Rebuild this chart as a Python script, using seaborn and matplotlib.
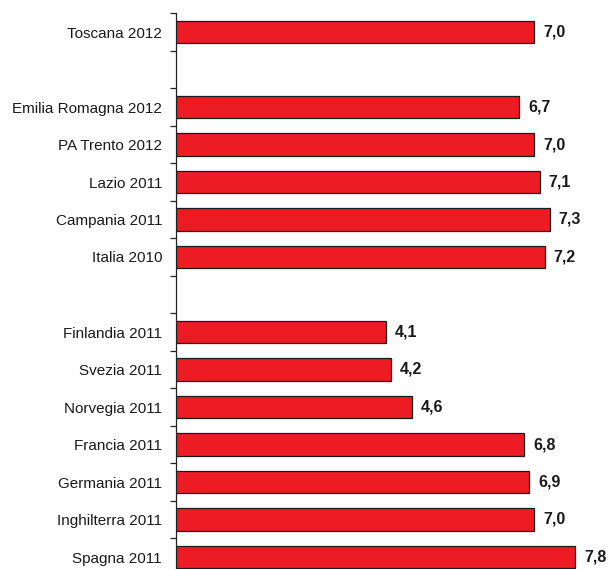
import matplotlib
matplotlib.use("Agg")
import matplotlib.pyplot as plt
import seaborn as sns
import pandas as pd
import numpy as np

labels = ["Toscana 2012", "", "Emilia Romagna 2012", "PA Trento 2012", "Lazio 2011",
          "Campania 2011", "Italia 2010", " ", "Finlandia 2011", "Svezia 2011",
          "Norvegia 2011", "Francia 2011", "Germania 2011", "Inghilterra 2011", "Spagna 2011"]
values = [7.0, np.nan, 6.7, 7.0, 7.1, 7.3, 7.2, np.nan, 4.1, 4.2, 4.6, 6.8, 6.9, 7.0, 7.8]
value_text = ["7,0", "", "6,7", "7,0", "7,1", "7,3", "7,2", "", "4,1", "4,2", "4,6", "6,8", "6,9", "7,0", "7,8"]

sns.set_style("white")
plt.rcParams['font.family'] = ['Liberation Sans', 'DejaVu Sans']

df = pd.DataFrame({"label": labels, "value": values})

W, H = 608, 569
fig = plt.figure(figsize=(W / 100, H / 100), dpi=100)
left, right = 176, 601
top, bottom = 13.25, 575.75
ax = fig.add_axes([left / W, (H - bottom) / H, (right - left) / W, (bottom - top) / H])

sns.barplot(data=df, x="value", y="label", order=labels, orient="h",
            color="#ED1C24", saturation=1, edgecolor="#1a1a1a", linewidth=0.9,
            width=0.6, ax=ax)

ax.set_xlim(0, 8.3)
ax.set_ylim(len(labels) - 0.5, -0.5)
ax.set_xlabel("")
ax.set_ylabel("")
ax.set_xticks([])
for s in ["top", "right", "bottom"]:
    ax.spines[s].set_visible(False)
ax.spines["left"].set_color("#222222")
ax.spines["left"].set_linewidth(0.9)

ax.set_yticks(range(len(labels)))
ax.set_yticklabels(labels, fontsize=11, color="#1a1a1a")
ax.tick_params(axis="y", which="major", left=False, length=0, pad=10)
ax.set_yticks(np.arange(-0.5, len(labels), 1.0), minor=True)
ax.tick_params(axis="y", which="minor", left=True, length=4, width=0.9,
               color="#222222", direction="out")

for i, (v, t) in enumerate(zip(values, value_text)):
    if t:
        ax.annotate(t, xy=(v, i), xytext=(6.5, 0), textcoords="offset points",
                    va="center", ha="left", fontsize=11.5, fontweight="bold", color="#1a1a1a")

fig.savefig("out.png", dpi=100)
